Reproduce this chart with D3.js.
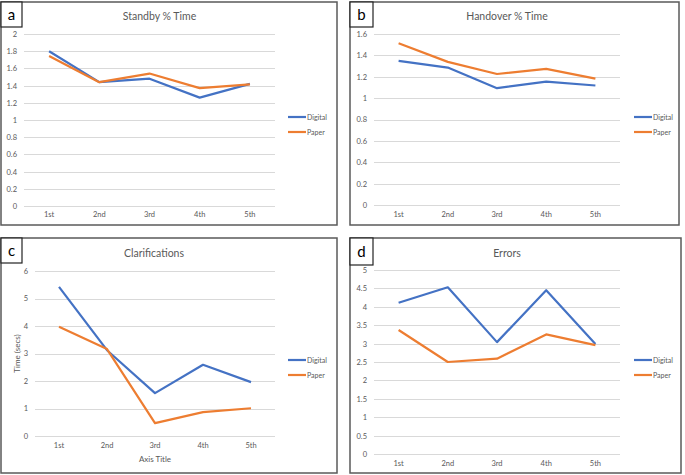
<!DOCTYPE html>
<html>
<head>
<meta charset="utf-8">
<script src="https://cdn.jsdelivr.net/npm/d3@7"></script>
<style>
  html, body { margin: 0; padding: 0; background: #fff; }
  svg { display: block; }
  text { font-family: Lato, "Open Sans", sans-serif; }
</style>
</head>
<body>
<svg id="chart" width="685" height="475"></svg>
<script>
// ---- data ----
const categories = ["1st", "2nd", "3rd", "4th", "5th"];
const seriesNames = ["Digital", "Paper"];

const standbyDigital = [1.80, 1.44, 1.48, 1.26, 1.42];
const standbyPaper   = [1.745, 1.44, 1.54, 1.37, 1.415];
const standbyTicks   = [0, 0.2, 0.4, 0.6, 0.8, 1, 1.2, 1.4, 1.6, 1.8, 2];

const handoverDigital = [1.348, 1.286, 1.093, 1.155, 1.118];
const handoverPaper   = [1.513, 1.339, 1.226, 1.273, 1.183];
const handoverTicks   = [0, 0.2, 0.4, 0.6, 0.8, 1, 1.2, 1.4, 1.6];

const clarDigital = [5.42, 3.12, 1.56, 2.59, 1.96];
const clarPaper   = [3.97, 3.16, 0.47, 0.87, 1.01];
const clarTicks   = [0, 1, 2, 3, 4, 5, 6];

const errDigital = [4.11, 4.53, 3.04, 4.45, 2.99];
const errPaper   = [3.37, 2.50, 2.59, 3.25, 2.96];
const errTicks   = [0, 0.5, 1, 1.5, 2, 2.5, 3, 3.5, 4, 4.5, 5];

const panelLetters = ["a", "b", "c", "d"];
const panelTitles = ["Standby % Time", "Handover % Time", "Clarifications", "Errors"];

// ---- layout ----
const colors = ["#4472C4", "#ED7D31"];
const svg = d3.select("#chart");

const panels = [
  { letter: panelLetters[0], title: panelTitles[0], digital: standbyDigital, paper: standbyPaper, ticks: standbyTicks,
    box: [1, 2, 337, 225], lbl: [1, 2, 22, 27], plot: [24, 275, 34, 206], titleY: 20, catY: 218, legX: 288, legY: [117, 132] },
  { letter: panelLetters[1], title: panelTitles[1], digital: handoverDigital, paper: handoverPaper, ticks: handoverTicks,
    box: [350, 2, 679, 225], lbl: [350, 2, 373, 27], plot: [374, 620, 34, 205], titleY: 20, catY: 218, legX: 634, legY: [117, 132] },
  { letter: panelLetters[2], title: panelTitles[2], digital: clarDigital, paper: clarPaper, ticks: clarTicks,
    box: [1, 238, 337, 473], lbl: [1, 238, 22, 263], plot: [35, 275, 271, 436], titleY: 257, catY: 449, legX: 288, legY: [360, 375],
    xTitle: "Axis Title", yTitle: "Time (secs)" },
  { letter: panelLetters[3], title: panelTitles[3], digital: errDigital, paper: errPaper, ticks: errTicks,
    box: [350, 238, 681, 473], lbl: [350, 238, 373, 265], plot: [374, 620, 270, 454], titleY: 257, catY: 467, legX: 634, legY: [360, 375] }
];

panels.forEach(p => {
  const g = svg.append("g");
  const [bx0, by0, bx1, by1] = p.box;
  g.append("rect").attr("x", bx0).attr("y", by0).attr("width", bx1 - bx0).attr("height", by1 - by0)
    .attr("fill", "#fff").attr("stroke", "#5a5a5a").attr("stroke-width", 1.5);

  const [px0, px1, py0, py1] = p.plot;
  const x = d3.scaleBand().domain(categories).range([px0, px1]);
  const y = d3.scaleLinear().domain([0, d3.max(p.ticks)]).range([py1, py0]);

  // gridlines
  g.append("g").selectAll("line").data(p.ticks).join("line")
    .attr("x1", px0).attr("x2", px1)
    .attr("y1", d => Math.round(y(d)) + 0.5).attr("y2", d => Math.round(y(d)) + 0.5)
    .attr("stroke", "#d9d9d9").attr("stroke-width", 1);

  // y axis tick labels
  const yAxis = d3.axisLeft(y).tickValues(p.ticks).tickSize(0).tickPadding(0).tickFormat(d3.format("~g"));
  const ya = g.append("g").attr("transform", `translate(${px0 - 7},0)`).call(yAxis);
  ya.select(".domain").remove();
  ya.selectAll("text").attr("fill", "#595959").attr("font-size", 7.5);

  // x axis labels
  const xAxis = d3.axisBottom(x).tickSize(0).tickPadding(0);
  const xa = g.append("g").attr("transform", `translate(0,${p.catY - 6})`).call(xAxis);
  xa.select(".domain").remove();
  xa.selectAll("text").attr("fill", "#595959").attr("font-size", 7.5);

  // lines
  const line = d3.line().x((d, i) => x(categories[i]) + x.bandwidth() / 2).y(d => y(d));
  [p.digital, p.paper].forEach((vals, k) => {
    g.append("path").datum(vals).attr("d", line).attr("fill", "none")
      .attr("stroke", colors[k]).attr("stroke-width", 2.2).attr("stroke-linejoin", "round");
  });

  // title
  g.append("text").attr("x", (px0 + px1) / 2 + (p.xTitle ? -1 : 10)).attr("y", p.titleY)
    .attr("text-anchor", "middle").attr("fill", "#595959").attr("font-size", 10.5).text(p.title);

  // legend
  seriesNames.forEach((n, k) => {
    g.append("line").attr("x1", p.legX).attr("x2", p.legX + 18).attr("y1", p.legY[k]).attr("y2", p.legY[k])
      .attr("stroke", colors[k]).attr("stroke-width", 2.2);
    g.append("text").attr("x", p.legX + 19).attr("y", p.legY[k] + 2.5).attr("fill", "#595959")
      .attr("font-size", 7).text(n);
  });

  // axis titles
  if (p.xTitle) {
    g.append("text").attr("x", (px0 + px1) / 2).attr("y", 462).attr("text-anchor", "middle")
      .attr("fill", "#595959").attr("font-size", 8).text(p.xTitle);
  }
  if (p.yTitle) {
    g.append("text").attr("transform", `translate(${20},${(py0 + py1) / 2}) rotate(-90)`)
      .attr("text-anchor", "middle").attr("fill", "#595959").attr("font-size", 8).text(p.yTitle);
  }

  // panel letter box
  const [lx0, ly0, lx1, ly1] = p.lbl;
  g.append("rect").attr("x", lx0).attr("y", ly0).attr("width", lx1 - lx0).attr("height", ly1 - ly0)
    .attr("fill", "#fff").attr("stroke", "#222").attr("stroke-width", 1.2);
  g.append("text").attr("x", (lx0 + lx1) / 2).attr("y", (ly0 + ly1) / 2 + 5).attr("text-anchor", "middle")
    .attr("fill", "#000").attr("font-size", 15).text(p.letter);
});
</script>
</body>
</html>
